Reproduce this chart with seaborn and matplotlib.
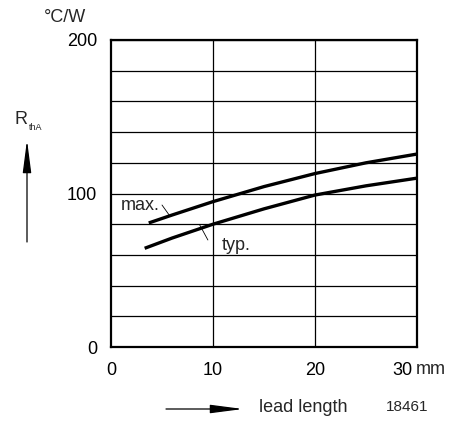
import matplotlib
matplotlib.use("Agg")
import matplotlib.pyplot as plt
import matplotlib.transforms as mtransforms
import seaborn as sns
import pandas as pd
import numpy as np

# data
lead_max = [3.7, 6, 10, 15, 20, 25, 30]
rth_max = [80.8, 86, 94.7, 104.5, 113, 120, 125.7]
lead_typ = [3.3, 6, 10, 15, 20, 25, 30]
rth_typ = [64.3, 71, 80, 90, 99, 105, 110]
xticks = [0, 10, 20, 30]
xtick_labels = ["0", "10", "20", "30"]
yticks = [0, 100, 200]

sns.set_theme(style="white")
plt.rcParams['font.family'] = ['Liberation Sans', 'DejaVu Sans']
FS = 13

df = pd.concat([
    pd.DataFrame({"x": lead_max, "y": rth_max, "s": "max."}),
    pd.DataFrame({"x": lead_typ, "y": rth_typ, "s": "typ."}),
])

fig = plt.figure(figsize=(4.54, 4.22), dpi=100)
ax = fig.add_axes([111/454, 1-347/422, 306/454, 307/422])
sns.lineplot(data=df, x="x", y="y", units="s", estimator=None, color="black",
             linewidth=2.4, ax=ax, legend=False, solid_capstyle="butt")

ax.set_xlim(0, 30)
ax.set_ylim(0, 200)
for v in np.arange(0, 201, 20):
    ax.axhline(v, color="black", lw=0.9, zorder=0)
for v in [10, 20]:
    ax.axvline(v, color="black", lw=0.9, zorder=0)
ax.set_xticks(xticks)
ax.set_xticklabels(xtick_labels)
ax.set_yticks(yticks)
ax.set_yticklabels([str(v) for v in yticks])
ax.tick_params(axis="both", length=0, labelsize=FS, colors="black")
ax.tick_params(axis="x", pad=10.5)
ax.tick_params(axis="y", pad=10)
# last x tick label sits left of its tick (followed by "mm")
lab = ax.get_xticklabels()[-1]
lab.set_horizontalalignment("right")
lab.set_transform(lab.get_transform() + mtransforms.ScaledTranslation(-5/100, 0, fig.dpi_scale_trans))
for sp in ax.spines.values():
    sp.set_color("black")
    sp.set_linewidth(1.6)
ax.set_xlabel("")
ax.set_ylabel("")
ax.grid(False)

# curve labels
ax.text(1.0, 92.5, "max.", fontsize=FS, va="center", ha="left")
ax.plot([5.0, 5.7], [92.5, 86], color="black", lw=0.6)
ax.text(10.9, 66.4, "typ.", fontsize=FS, va="center", ha="left")
ax.plot([8.7, 9.5], [79.5, 69.7], color="black", lw=0.6)

# annotations outside axes
fig.text(416/454, 1-369/422, "mm", fontsize=FS, va="center", ha="left")
fig.text(65/454, 1-17/422, "°C/W", fontsize=FS, va="center", ha="center")
fig.text(21/454, 1-119/422, "R", fontsize=FS, va="center", ha="center")
fig.text(29/454, 1-128/422, "thA", fontsize=6.5, va="center", ha="left")
fig.add_artist(matplotlib.patches.FancyArrowPatch((27/454, 1-242/422), (27/454, 1-140/422),
               transform=fig.transFigure, arrowstyle="-|>,head_length=20,head_width=2.6",
               color="black", lw=0.9, shrinkA=0, shrinkB=0))
fig.add_artist(matplotlib.patches.FancyArrowPatch((166/454, 1-409/422), (243/454, 1-409/422),
               transform=fig.transFigure, arrowstyle="-|>,head_length=20,head_width=2.6",
               color="black", lw=0.9, shrinkA=0, shrinkB=0))
fig.text(259/454, 1-407/422, "lead length", fontsize=FS, va="center", ha="left")
fig.text(386/454, 1-407/422, "18461", fontsize=11, va="center", ha="left")

fig.savefig("out.png", dpi=100)
